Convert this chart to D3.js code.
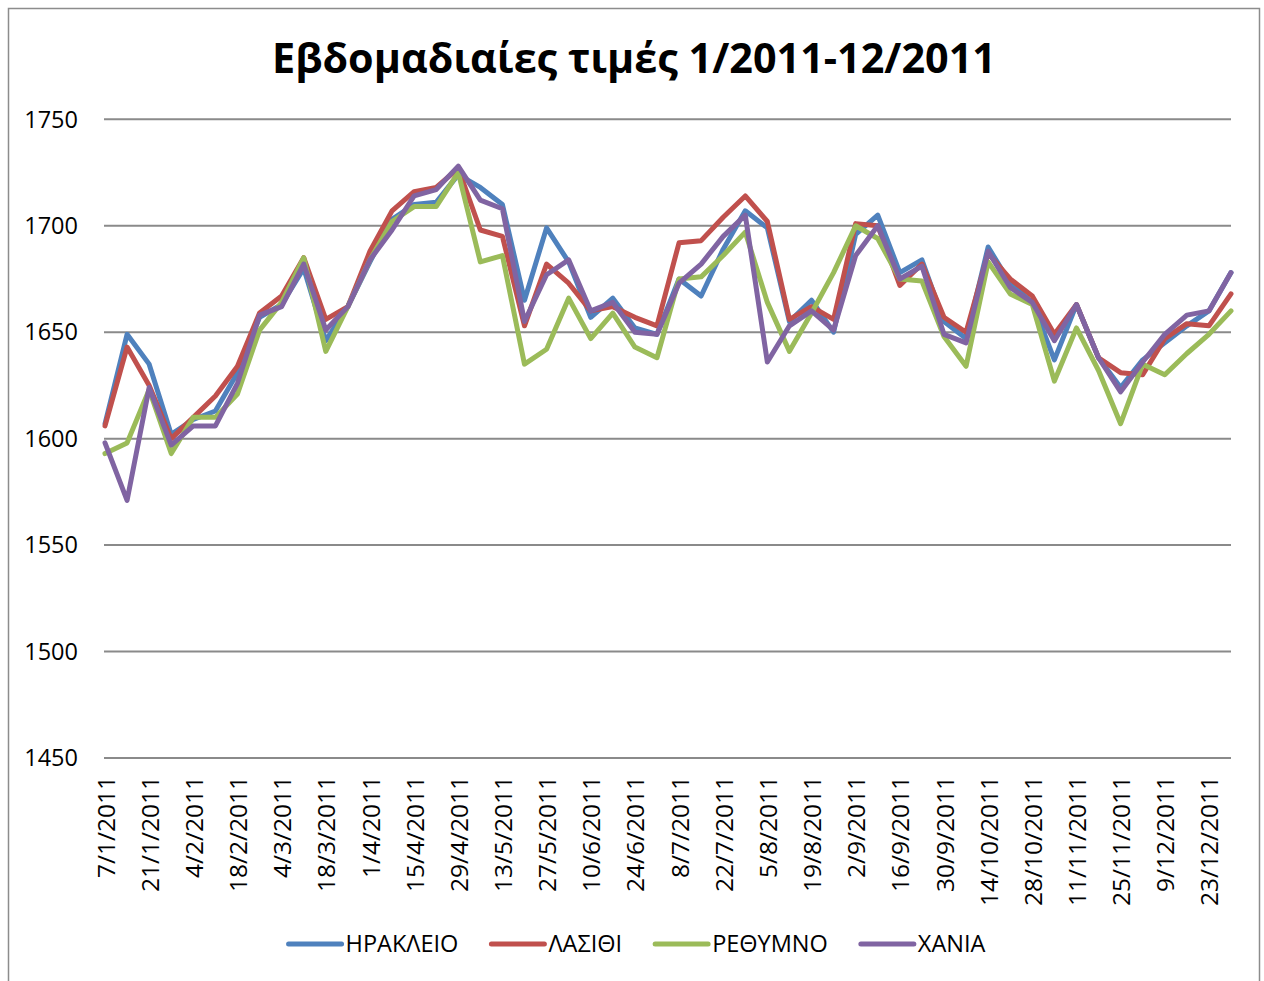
<!DOCTYPE html>
<html>
<head>
<meta charset="utf-8">
<script src="https://cdn.jsdelivr.net/npm/d3@7"></script>
<style>
  body { margin: 0; background: #fff; }
  svg { display: block; }
  text { font-family: "Open Sans", "Noto Sans", sans-serif; fill: #000; }
</style>
</head>
<body>
<script>
// Weekly dates (Fridays) of 2011
const weeks = [
  "7/1/2011","14/1/2011","21/1/2011","28/1/2011","4/2/2011","11/2/2011","18/2/2011","25/2/2011",
  "4/3/2011","11/3/2011","18/3/2011","25/3/2011","1/4/2011","8/4/2011","15/4/2011","22/4/2011",
  "29/4/2011","6/5/2011","13/5/2011","20/5/2011","27/5/2011","3/6/2011","10/6/2011","17/6/2011",
  "24/6/2011","1/7/2011","8/7/2011","15/7/2011","22/7/2011","29/7/2011","5/8/2011","12/8/2011",
  "19/8/2011","26/8/2011","2/9/2011","9/9/2011","16/9/2011","23/9/2011","30/9/2011","7/10/2011",
  "14/10/2011","21/10/2011","28/10/2011","4/11/2011","11/11/2011","18/11/2011","25/11/2011","2/12/2011",
  "9/12/2011","16/12/2011","23/12/2011","30/12/2011"
];

// Series values
const irakleio = [
  1607,1649,1635,1602,1609,1613,1631,1657,1663,1680,1646,1662,1683,1703,1710,1711,
  1724,1718,1710,1665,1699,1683,1657,1666,1652,1649,1675,1667,1689,1707,1699,1655,
  1665,1650,1696,1705,1678,1684,1655,1647,1690,1673,1664,1637,1663,1638,1624,1637,
  1645,1653,1660,1678
];
const lasithi = [
  1606,1643,1625,1600,1610,1620,1634,1659,1667,1685,1656,1662,1688,1707,1716,1718,
  1727,1698,1695,1653,1682,1673,1660,1662,1657,1653,1692,1693,1704,1714,1702,1656,
  1662,1656,1701,1700,1672,1682,1657,1650,1687,1675,1667,1649,1663,1638,1631,1630,
  1647,1654,1653,1668
];
const rethymno = [
  1593,1598,1623,1593,1610,1610,1621,1651,1664,1685,1641,1662,1684,1702,1709,1709,
  1725,1683,1686,1635,1642,1666,1647,1659,1643,1638,1675,1676,1686,1697,1664,1641,
  1659,1678,1700,1694,1675,1674,1648,1634,1683,1668,1663,1627,1652,1632,1607,1635,
  1630,1640,1649,1660
];
const chania = [
  1598,1571,1624,1597,1606,1606,1626,1658,1662,1682,1651,1662,1684,1698,1714,1717,
  1728,1712,1708,1655,1677,1684,1660,1664,1650,1649,1673,1682,1695,1705,1636,1653,
  1660,1651,1686,1700,1675,1681,1649,1645,1688,1671,1664,1646,1663,1638,1622,1636,
  1649,1658,1660,1678
];

const seriesNames = ["ΗΡΑΚΛΕΙΟ", "ΛΑΣΙΘΙ", "ΡΕΘΥΜΝΟ", "ΧΑΝΙΑ"];
const seriesValues = [irakleio, lasithi, rethymno, chania];
const seriesColors = ["#4F81BD", "#C0504D", "#9BBB59", "#8064A2"];
const yTicks = [1450, 1500, 1550, 1600, 1650, 1700, 1750];
const title = "Εβδομαδιαίες τιμές 1/2011-12/2011";

const width = 1264, height = 981;

const svg = d3.select("body").append("svg")
    .attr("width", width)
    .attr("height", height);

// Chart frame
svg.append("rect")
    .attr("x", 8.5).attr("y", 8.5)
    .attr("width", 1251).attr("height", 990)
    .attr("fill", "#fff")
    .attr("stroke", "#8c8c8c")
    .attr("stroke-width", 1.5);

const x = d3.scalePoint().domain(weeks).range([105, 1231]);
const y = d3.scaleLinear().domain([1450, 1750]).range([758, 119.3]);

// Gridlines
svg.append("g")
    .selectAll("line")
    .data(yTicks)
    .enter().append("line")
    .attr("x1", 104).attr("x2", 1231)
    .attr("y1", d => y(d)).attr("y2", d => y(d))
    .attr("stroke", "#8a8a8a")
    .attr("stroke-width", 2);

// Y axis labels
svg.append("g")
    .selectAll("text")
    .data(yTicks)
    .enter().append("text")
    .attr("x", 78)
    .attr("y", d => y(d))
    .attr("dy", "0.35em")
    .attr("text-anchor", "end")
    .style("font-size", "23.5px")
    .text(d => d);

// X axis labels, every second week, rotated
svg.append("g")
    .selectAll("text")
    .data(weeks.filter((d, i) => i % 2 === 0))
    .enter().append("text")
    .attr("transform", d => `translate(${x(d) + 1},776) rotate(-90)`)
    .attr("dy", "0.35em")
    .attr("text-anchor", "end")
    .style("font-size", "24.5px")
    .text(d => d);

// Lines
const line = d3.line()
    .x((d, i) => x(weeks[i]))
    .y(d => y(d));

svg.append("g")
    .selectAll("path")
    .data(seriesValues)
    .enter().append("path")
    .attr("d", line)
    .attr("fill", "none")
    .attr("stroke", (d, i) => seriesColors[i])
    .attr("stroke-width", 5)
    .attr("stroke-linejoin", "round")
    .attr("stroke-linecap", "round");

// Title, fitted to the width seen in the picture
const titleText = svg.append("text")
    .attr("x", 634)
    .attr("y", 73)
    .attr("text-anchor", "middle")
    .style("font-size", "40px")
    .style("font-weight", "bold")
    .text(title);
const tw = titleText.node().getComputedTextLength();
titleText.style("font-size", (40 * 724 / tw) + "px");

// Legend
const legend = svg.append("g");
const items = legend.selectAll("g")
    .data(seriesNames)
    .enter().append("g");
items.append("line")
    .attr("x1", 0).attr("x2", 53)
    .attr("y1", 0).attr("y2", 0)
    .attr("stroke", (d, i) => seriesColors[i])
    .attr("stroke-width", 5)
    .attr("stroke-linecap", "round");
items.append("text")
    .attr("x", 57)
    .attr("dy", "0.35em")
    .style("font-size", "23.5px")
    .text(d => d);

let offset = 0;
const itemX = [];
items.each(function() {
    itemX.push(offset);
    const w = d3.select(this).select("text").node().getComputedTextLength();
    offset += 57 + w + 33;
});
const total = offset - 33;
const startX = 637 - total / 2;
items.attr("transform", (d, i) => `translate(${startX + itemX[i]},944)`);
</script>
</body>
</html>
